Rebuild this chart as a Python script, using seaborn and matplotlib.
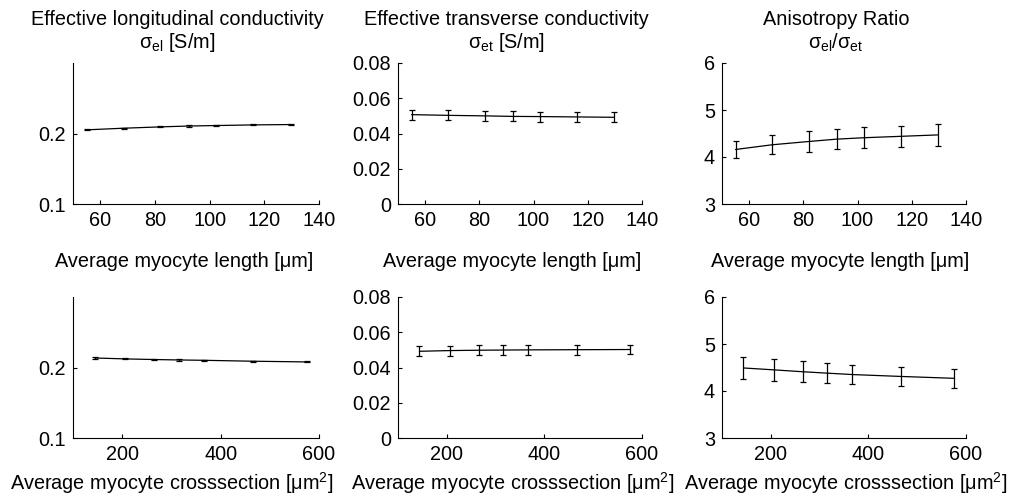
import numpy as np
import pandas as pd
import matplotlib
matplotlib.use("Agg")
import matplotlib.pyplot as plt
import seaborn as sns

# ---- data ----
length_um = [55.0, 68.5, 82.0, 92.3, 102.4, 116.0, 129.6]
cross_um2 = [144, 206, 265, 315, 367, 466, 575]

sig_l_vs_len = [0.2052, 0.2075, 0.2094, 0.2106, 0.2113, 0.2122, 0.2127]
sig_l_vs_len_err = [0.0008, 0.0008, 0.0008, 0.0008, 0.0008, 0.0008, 0.0008]
sig_t_vs_len = [0.0507, 0.0503, 0.0500, 0.0497, 0.0496, 0.0494, 0.0492]
sig_t_vs_len_err = [0.0028, 0.0028, 0.0028, 0.0028, 0.0028, 0.0028, 0.0028]
ratio_vs_len = [4.16, 4.26, 4.33, 4.38, 4.41, 4.44, 4.47]
ratio_vs_len_err = [0.19, 0.20, 0.22, 0.22, 0.22, 0.23, 0.23]

sig_l_vs_cs = [0.2135, 0.2122, 0.2113, 0.2107, 0.2102, 0.2089, 0.2079]
sig_l_vs_cs_err = [0.0008, 0.0008, 0.0008, 0.0008, 0.0008, 0.0008, 0.0008]
sig_t_vs_cs = [0.0492, 0.0496, 0.0498, 0.0499, 0.0500, 0.0501, 0.0502]
sig_t_vs_cs_err = [0.0028, 0.0028, 0.0028, 0.0028, 0.0028, 0.0028, 0.0028]
ratio_vs_cs = [4.49, 4.45, 4.41, 4.38, 4.35, 4.31, 4.27]
ratio_vs_cs_err = [0.23, 0.23, 0.22, 0.22, 0.21, 0.21, 0.20]

titles = ["Effective longitudinal conductivity\nσ$_{\\mathrm{el}}$ [S/m]",
          "Effective transverse conductivity\nσ$_{\\mathrm{et}}$ [S/m]",
          "Anisotropy Ratio\nσ$_{\\mathrm{el}}$/σ$_{\\mathrm{et}}$"]
xlabel_len = "Average myocyte length [μm]"
xlabel_cs = "Average myocyte crosssection [μm$^{2}$]"

ylims = [(0.1, 0.3), (0.0, 0.08), (3, 6)]
yticks = [[0.1, 0.2], [0, 0.02, 0.04, 0.06, 0.08], [3, 4, 5, 6]]
yticklabels = [["0.1", "0.2"], ["0", "0.02", "0.04", "0.06", "0.08"], ["3", "4", "5", "6"]]

sns.set_style("ticks")
plt.rcParams['font.family'] = ['Liberation Sans', 'DejaVu Sans']
plt.rcParams['mathtext.fontset'] = 'custom'
plt.rcParams['mathtext.rm'] = 'Liberation Sans'
plt.rcParams['mathtext.it'] = 'Liberation Sans:italic'
plt.rcParams['mathtext.bf'] = 'Liberation Sans:bold'
for k in ['text.color', 'axes.labelcolor', 'xtick.color', 'ytick.color']:
    plt.rcParams[k] = 'black'

fig = plt.figure(figsize=(10.14, 4.97), dpi=100)
W, H = 1014, 497
lefts = [73, 398, 722]
widths = [246, 244, 244]
top_row = (63, 204)
bot_row = (297, 438)

top_series = [(sig_l_vs_len, sig_l_vs_len_err), (sig_t_vs_len, sig_t_vs_len_err), (ratio_vs_len, ratio_vs_len_err)]
bot_series = [(sig_l_vs_cs, sig_l_vs_cs_err), (sig_t_vs_cs, sig_t_vs_cs_err), (ratio_vs_cs, ratio_vs_cs_err)]

title_x = [0.423, 0.445, 0.467]
xl_top_x = [0.451, 0.469, 0.486]
xl_bot_x = [0.402, 0.471, 0.508]

FS = 14.3

for row in range(2):
    ytop, ybot = (top_row if row == 0 else bot_row)
    xs = length_um if row == 0 else cross_um2
    series = top_series if row == 0 else bot_series
    for col in range(3):
        ax = fig.add_axes([lefts[col] / W, 1 - ybot / H, widths[col] / W, (ybot - ytop) / H])
        yv, ye = series[col]
        df = pd.DataFrame({"x": xs, "y": yv})
        sns.lineplot(data=df, x="x", y="y", ax=ax, color="black", linewidth=0.9)
        ax.errorbar(xs, yv, yerr=ye, fmt="none", ecolor="black", elinewidth=0.9,
                    capsize=2.2, capthick=0.9)
        ax.set_ylim(*ylims[col])
        ax.set_yticks(yticks[col])
        ax.set_yticklabels(yticklabels[col])
        if row == 0:
            ax.set_xlim(50, 140)
            ax.set_xticks([60, 80, 100, 120, 140])
            ax.set_title(titles[col], fontsize=FS, pad=10.5, linespacing=1.15)
            ax.title.set_x(title_x[col])
            ax.set_xlabel(xlabel_len, fontsize=FS)
            ax.xaxis.set_label_coords(xl_top_x[col], -0.34)
        else:
            ax.set_xlim(100, 600)
            ax.set_xticks([200, 400, 600])
            ax.set_xlabel(xlabel_cs, fontsize=FS)
            ax.xaxis.set_label_coords(xl_bot_x[col], -0.225)
        ax.set_ylabel("")
        ax.tick_params(direction="in", length=3, width=0.8, labelsize=FS, pad=5)
        sns.despine(ax=ax)
        for s in ["left", "bottom"]:
            ax.spines[s].set_linewidth(0.8)
            ax.spines[s].set_color("black")

fig.savefig("out.png", dpi=100)
